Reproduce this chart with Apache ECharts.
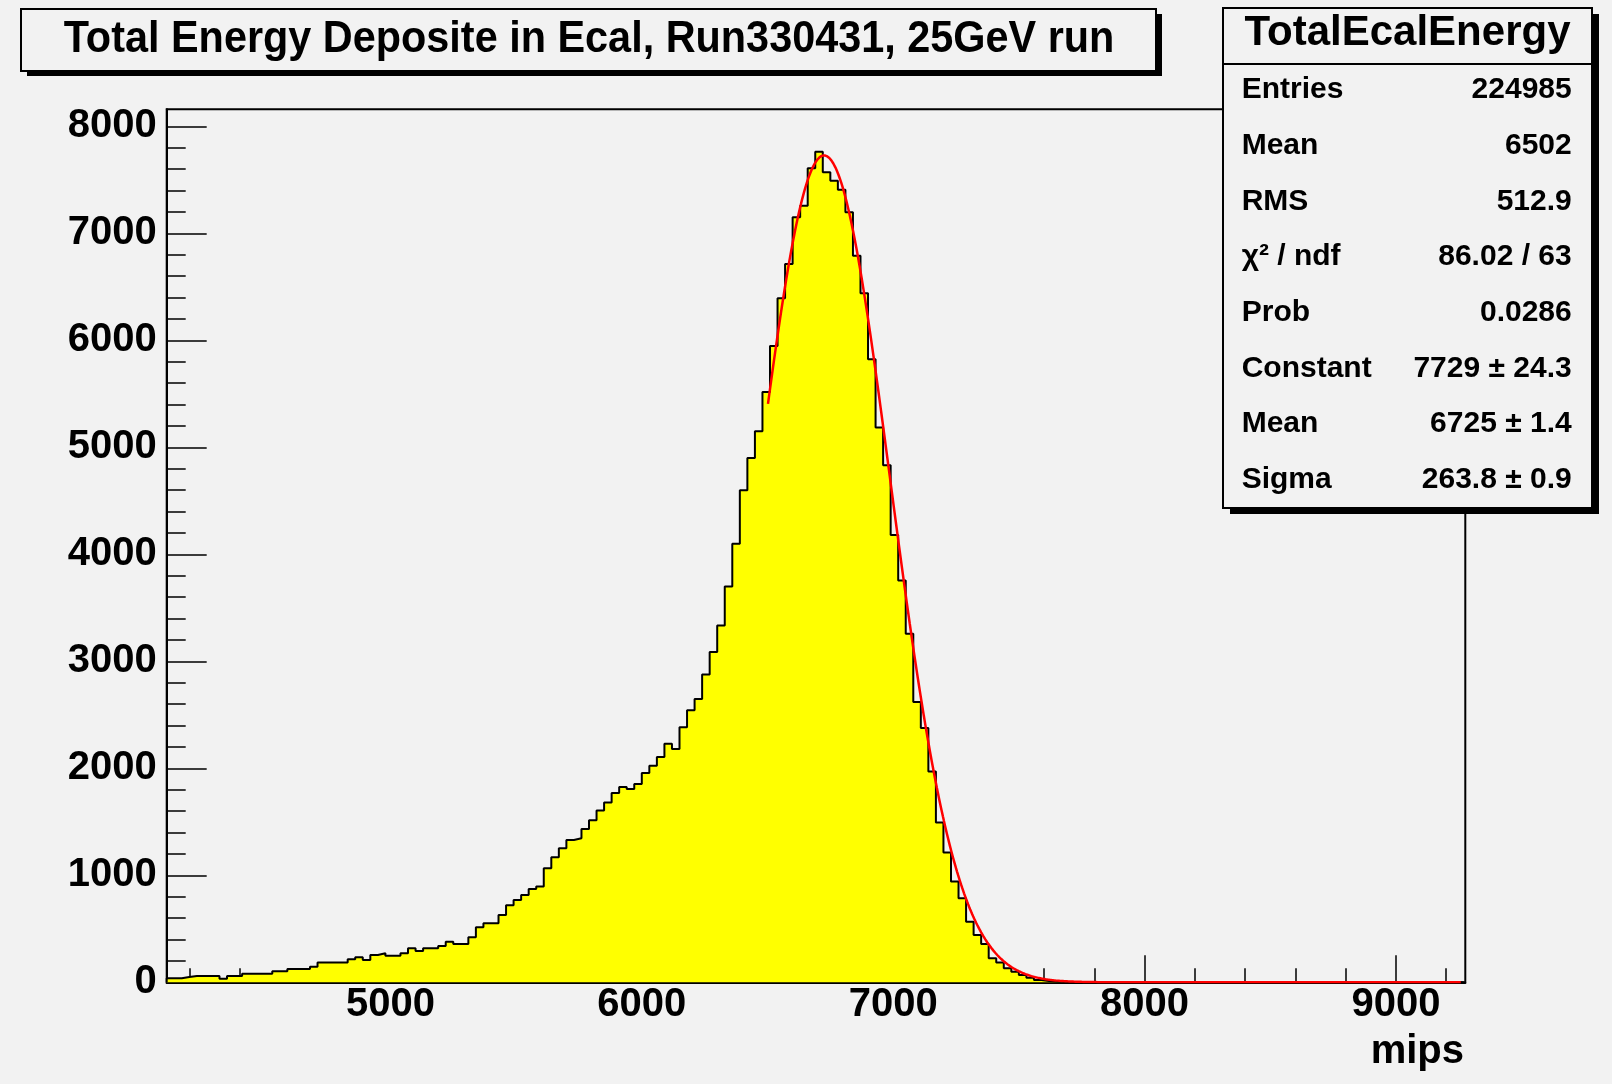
<!DOCTYPE html>
<html><head><meta charset="utf-8">
<script src="https://cdn.jsdelivr.net/npm/echarts@6/dist/echarts.min.js"></script>
<style>html,body{margin:0;padding:0;background:#f2f2f2}#c{width:1612px;height:1084px}</style>
</head><body><div id="c"></div>
<script>
// ---------------- data ----------------
const titleText = "Total Energy Deposite in Ecal, Run330431, 25GeV run";
const statsTitle = "TotalEcalEnergy";
const statsLabels = ["Entries", "Mean", "RMS", "\u03c7\u00b2 / ndf", "Prob", "Constant", "Mean", "Sigma"];
const statsValues = ["224985", "6502", "512.9", "86.02 / 63", "0.0286", "7729 \u00b1 24.3", "6725 \u00b1 1.4", "263.8 \u00b1 0.9"];
const xAxisTitle = "mips";

const binLow = 4110;      // left edge of first bin (mips)
const binWidth = 30;      // bin width (mips)
const counts = [
  37, 37, 50, 59, 59, 59, 59, 34, 59, 59,
  81, 81, 81, 81, 103, 103, 125, 125, 125, 146,
  184, 184, 184, 184, 215, 234, 209, 256, 271, 249,
  249, 271, 318, 293, 318, 318, 340, 380, 358, 358,
  421, 515, 552, 552, 630, 720, 770, 817, 873, 895,
  1067, 1170, 1254, 1330, 1346, 1432, 1515, 1606, 1681, 1769,
  1825, 1806, 1853, 1956, 2024, 2106, 2230, 2181, 2383, 2542,
  2649, 2876, 3088, 3335, 3700, 4100, 4600, 4900, 5150, 5518,
  5948, 6394, 6713, 7150, 7259, 7609, 7764, 7571, 7493, 7408,
  7197, 6791, 6441, 5824, 5185, 4832, 4180, 3756, 3257, 2620,
  2377, 1971, 1494, 1213, 942, 786, 567, 443, 358, 225,
  184, 131, 99, 68, 43, 22, 12, 8, 5, 3,
  2, 1, 1, 0, 0, 0, 0, 0, 0, 0,
  0, 0, 0, 0, 0, 0, 0, 0, 0, 0,
  0, 0, 0, 0, 0, 0, 0, 0, 0, 0,
  0, 0, 0, 0, 0, 0, 0, 0, 0, 0,
  0, 0, 0, 0, 0, 0, 0, 0, 0, 0,
  0, 0
];

// Gaussian fit parameters (from the stats box) and fit range
const fitConstant = 7729;
const fitMean = 6725;
const fitSigma = 263.8;
const fitRange = [6502, 9260];

const xRange = [4110, 9276];
const yRange = [0, 8160];
const xTickLabels = [5000, 6000, 7000, 8000, 9000];
const yTickLabels = [0, 1000, 2000, 3000, 4000, 5000, 6000, 7000, 8000];
const minorStep = 200;

// ---------------- build ----------------
const histLine = [[binLow, 0]];
counts.forEach((c, i) => {
  const lo = binLow + i * binWidth;
  histLine.push([lo, c], [lo + binWidth, c]);
});
histLine.push([binLow + counts.length * binWidth, 0]);

const fitLine = [];
for (let x = fitRange[0]; x <= fitRange[1]; x += 4) {
  const z = (x - fitMean) / fitSigma;
  fitLine.push([x, fitConstant * Math.exp(-0.5 * z * z)]);
}

function minorTicks(lo, hi, step, majors) {
  const out = [];
  for (let v = Math.ceil(lo / step) * step; v <= hi; v += step) {
    if (majors.indexOf(v) < 0) out.push(v);
  }
  return out;
}
const xMinor = minorTicks(xRange[0], xRange[1], minorStep, xTickLabels);
const yMinor = minorTicks(yRange[0], yRange[1], minorStep, yTickLabels);

const FONT = '"Liberation Sans", Arial, Helvetica, sans-serif';
const BG = '#f2f2f2';

const grid = { left: 166.7, top: 109.3, right: 146.7, bottom: 101.7 };
const plain = v => String(Math.round(v));

function xAx(ticks, len, showLabel, showLine) {
  return {
    type: 'value', min: xRange[0], max: xRange[1], position: 'bottom',
    axisLine: { show: showLine, onZero: false, lineStyle: { color: '#000', width: 2 } },
    axisTick: { show: true, inside: true, length: len, customValues: ticks, lineStyle: { color: '#000', width: 1.5 } },
    axisLabel: { show: showLabel, customValues: ticks, formatter: plain, color: '#000', fontSize: 40, fontWeight: 'bold', fontFamily: FONT, margin: 3 },
    splitLine: { show: false }, minorTick: { show: false }
  };
}
function yAx(ticks, len, showLabel, showLine) {
  return {
    type: 'value', min: yRange[0], max: yRange[1], position: 'left',
    axisLine: { show: showLine, onZero: false, lineStyle: { color: '#000', width: 2 } },
    axisTick: { show: true, inside: true, length: len, customValues: ticks, lineStyle: { color: '#000', width: 1.5 } },
    axisLabel: { show: showLabel, customValues: ticks, formatter: plain, color: '#000', fontSize: 40, fontWeight: 'bold', fontFamily: FONT, margin: 10 },
    splitLine: { show: false }, minorTick: { show: false }
  };
}

const graphics = [];
// title pave
graphics.push({ type: 'rect', z: 100, silent: true, shape: { x: 27, y: 14, width: 1135, height: 62 }, style: { fill: '#000' } });
graphics.push({ type: 'rect', z: 101, silent: true, shape: { x: 21, y: 9, width: 1135, height: 62 }, style: { fill: BG, stroke: '#000', lineWidth: 2 } });
graphics.push({ type: 'text', z: 102, silent: true, x: 589, y: 40, scaleX: 0.92,
  style: { text: titleText, font: 'bold 45px ' + FONT, fill: '#000', align: 'center', verticalAlign: 'middle', textAlign: 'center', textVerticalAlign: 'middle' } });
// stats box
graphics.push({ type: 'rect', z: 100, silent: true, shape: { x: 1230, y: 14, width: 369, height: 500 }, style: { fill: '#000' } });
graphics.push({ type: 'rect', z: 101, silent: true, shape: { x: 1223, y: 8, width: 369, height: 500 }, style: { fill: BG, stroke: '#000', lineWidth: 2 } });
graphics.push({ type: 'line', z: 102, silent: true, shape: { x1: 1223, y1: 64, x2: 1592, y2: 64 }, style: { stroke: '#000', lineWidth: 2 } });
graphics.push({ type: 'text', z: 102, silent: true, x: 1407.5, y: 33,
  style: { text: statsTitle, font: 'bold 42px ' + FONT, fill: '#000', align: 'center', verticalAlign: 'middle', textAlign: 'center', textVerticalAlign: 'middle' } });
statsLabels.forEach((lab, k) => {
  const yy = 90 + 55.7 * k;
  graphics.push({ type: 'text', z: 102, silent: true, x: 1241.7, y: yy,
    style: { text: lab, font: 'bold 30px ' + FONT, fill: '#000', align: 'left', verticalAlign: 'middle', textAlign: 'left', textVerticalAlign: 'middle' } });
  graphics.push({ type: 'text', z: 102, silent: true, x: 1571.7, y: yy,
    style: { text: statsValues[k], font: 'bold 30px ' + FONT, fill: '#000', align: 'right', verticalAlign: 'middle', textAlign: 'right', textVerticalAlign: 'middle' } });
});
// x axis title
graphics.push({ type: 'text', z: 102, silent: true, x: 1464, y: 1052,
  style: { text: xAxisTitle, font: 'bold 40px ' + FONT, fill: '#000', align: 'right', verticalAlign: 'middle', textAlign: 'right', textVerticalAlign: 'middle' } });

const chart = echarts.init(document.getElementById('c'), null, { renderer: 'canvas' });
chart.setOption({
  animation: false,
  backgroundColor: BG,
  textStyle: { fontFamily: FONT },
  grid: Object.assign({ show: true, borderColor: '#000', borderWidth: 2, backgroundColor: 'transparent', containLabel: false }, grid),
  xAxis: [xAx(xTickLabels, 27, true, true), xAx(xMinor, 14, false, false)],
  yAxis: [yAx(yTickLabels, 40, true, true), yAx(yMinor, 19, false, false)],
  series: [
    { type: 'line', name: 'hist', data: histLine, xAxisIndex: 0, yAxisIndex: 0, symbol: 'none', z: 2,
      lineStyle: { color: '#000', width: 2 }, areaStyle: { color: '#ffff00', opacity: 1, origin: 'start' } },
    { type: 'line', name: 'fit', data: fitLine, xAxisIndex: 0, yAxisIndex: 0, symbol: 'none', z: 3, smooth: false,
      lineStyle: { color: '#ff0000', width: 2.5 } }
  ],
  graphic: graphics
});
</script>
</body></html>
